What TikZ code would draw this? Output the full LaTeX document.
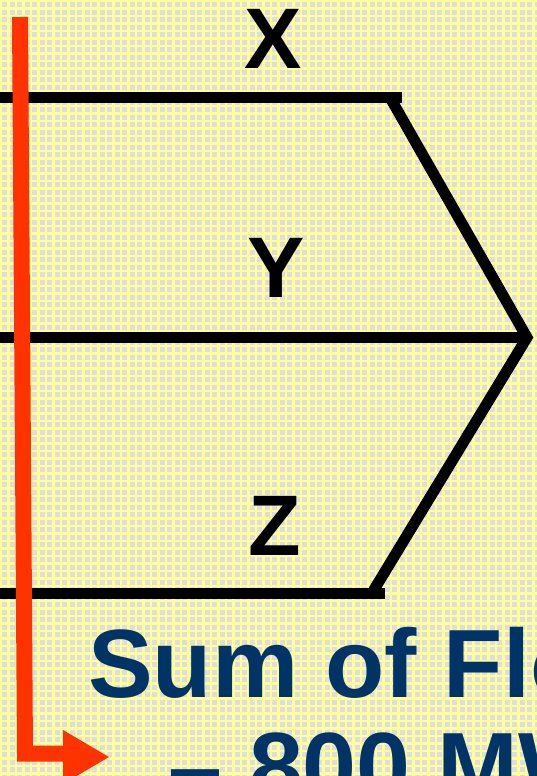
\documentclass[tikz,border=0pt]{standalone}
\usepackage{fontspec}
\setmainfont{Liberation Sans}
\definecolor{bggray}{RGB}{222,222,226}
\definecolor{bgyellow}{RGB}{255,255,150}
\definecolor{arrowred}{RGB}{255,51,0}
\definecolor{textblue}{RGB}{0,51,102}
\tikzset{
  gridline/.style={draw=bgyellow, line width=2.2pt},
  blackline/.style={draw=black, line width=11pt, line cap=butt, line join=miter},
  redline/.style={draw=arrowred, line width=16pt, line cap=butt, line join=miter},
  redhead/.style={fill=arrowred, draw=none},
  letter/.style={inner sep=0pt, anchor=base, font=\bfseries\fontsize{86}{86}\selectfont},
  bigtext/.style={inner sep=0pt, anchor=base west, text=textblue, font=\bfseries\fontsize{97}{97}\selectfont}
}
\begin{document}
\begin{tikzpicture}[x=1pt,y=-1pt]
\useasboundingbox (0,0) rectangle (537,776);
\clip (0,0) rectangle (537,776);
% background
\fill[bggray] (0,0) rectangle (537,776);
\foreach \i in {0,...,72} { \draw[gridline] (\i*7.5+1,0) -- (\i*7.5+1,776); }
\foreach \j in {0,...,104} { \draw[gridline] (0,\j*7.5+1) -- (537,\j*7.5+1); }
% coordinates
\coordinate (tl) at (0,97.5);
\coordinate (tr) at (402,97.5);
\coordinate (ts) at (390,97.5);
\coordinate (apex) at (527,337.5);
\coordinate (ml) at (0,337.5);
\coordinate (bs) at (372,593);
\coordinate (bl) at (0,593);
\coordinate (br) at (385,593);
% black lines
\draw[blackline] (tl) -- (tr);
\draw[blackline] (ml) -- (apex);
\draw[blackline] (bl) -- (br);
\draw[blackline] (ts) -- (apex) -- (bs);
% labels
\node[letter] (X) at (273,68) {X};
\node[letter] (Y) at (276,297) {Y};
\node[letter] (Z) at (275,555) {Z};
% text
\node[bigtext] (sum) at (88,697) {Sum of Flows};
\node[bigtext] (mw) at (168,800) {– 800 MW};
% red arrow
\coordinate (rtop) at (20,17);
\coordinate (rcorner) at (25,753.5);
\coordinate (rend) at (64,753.5);
\draw[redline] (rtop) -- (rcorner) -- (rend);
\fill[redhead] (63,730) -- (109,757) -- (63,784) -- cycle;
\end{tikzpicture}
\end{document}
